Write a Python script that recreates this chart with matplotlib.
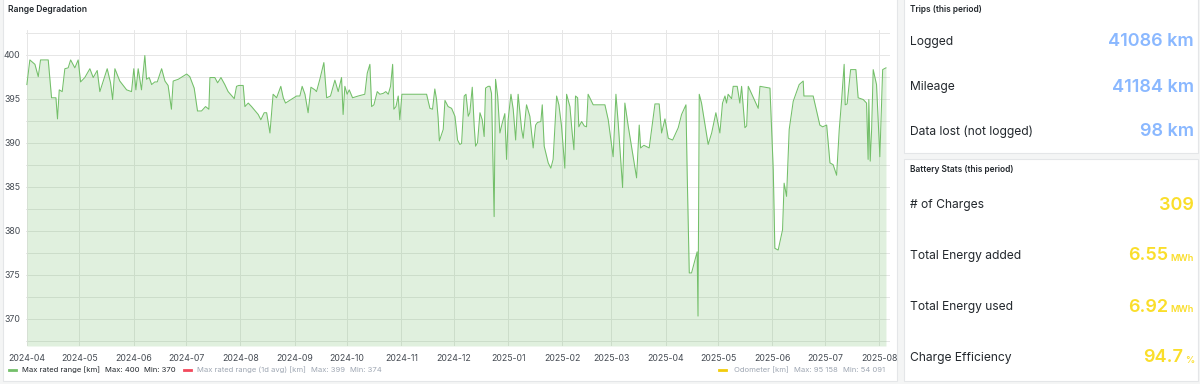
import numpy as np
import pandas as pd
import matplotlib
matplotlib.use("Agg")
import matplotlib.pyplot as plt
from matplotlib.patches import Rectangle

plt.rcParams['font.family'] = ['Inter', 'DejaVu Sans']

# --- data: max rated range, days since 2024-04-01 ---
start = pd.Timestamp("2024-04-01")
day = [0, 1.7, 4.6, 6.5, 7.8, 12.2, 14.1, 16.6, 17.5, 18.5, 20.2, 21.7, 23.6, 25.0, 27.4, 29.3,
       30.7, 33.1, 36.0, 37.9, 40.2, 41.7, 45.9, 47.8, 49.0, 50.3, 53.1, 57.0, 59.8, 61.1, 62.3,
       63.6, 65.5, 67.4, 68.4, 69.9, 71.3, 73.1, 74.5, 77.0, 78.9, 80.7, 82.6, 83.6, 86.5, 91.3,
       93.1, 95.6, 97.5, 99.8, 102.1, 104.0, 104.6, 107.4, 109.0, 110.9, 113.1, 115.0, 118.5,
       119.8, 121.1, 123.6, 124.6, 126.5, 128.4, 132.2, 133.7, 135.6, 137.0, 138.9, 140.7, 142.7,
       145.1, 146.5, 147.8, 150.9, 154.1, 156.0, 157.3, 158.9, 160.7, 162.3, 164.6, 165.5, 167.4,
       169.7, 171.3, 173.5, 176.0, 177.9, 179.8, 180.7, 181.7, 183.0, 184.2, 186.1, 189.3, 193.1,
       194.5, 196.0, 197.0, 198.3, 200.2, 201.7, 203.6, 205.1, 206.5, 207.8, 209.0, 209.7, 210.9,
       212.2, 213.1, 214.3, 228.4, 230.3, 231.8, 233.1, 234.1, 235.0, 235.7, 237.9, 238.9, 240.7,
       242.7, 244.6, 246.1, 247.4, 248.4, 249.9, 250.9, 252.2, 253.1, 254.5, 255.6, 256.4, 257.5,
       258.9, 260.2, 261.3, 262.1, 263.6, 264.6, 265.5, 266.5, 267.0, 267.8, 269.0, 270.3, 271.6,
       273.1, 274.1, 275.0, 276.6, 277.9, 279.3, 280.7, 282.7, 283.6, 285.5, 287.4, 289.3, 290.7,
       291.8, 293.7, 294.5, 295.6, 297.9, 299.4, 300.7, 302.7, 304.0, 305.5, 307.4, 308.4, 310.3,
       311.6, 312.6, 313.5, 314.7, 315.4, 317.0, 318.5, 319.8, 320.7, 323.6, 330.3, 332.2, 335.0,
       336.6, 337.9, 340.4, 341.7, 343.6, 348.4, 349.9, 350.7, 352.6, 355.6, 358.9, 361.3, 362.7,
       364.6, 366.5, 369.0, 372.2, 374.1, 376.6, 377.3, 378.5, 379.8, 383.0, 383.5, 383.7, 384.2,
       385.5, 389.3, 391.3, 393.7, 396.0, 397.5, 398.9, 399.8, 400.7, 402.7, 403.6, 405.9, 407.4,
       408.4, 410.3, 411.3, 412.2, 417.9, 418.9, 424.6, 426.5, 427.4, 429.3, 431.8, 432.7, 434.1,
       435.6, 437.9, 441.3, 443.6, 444.0, 449.3, 453.1, 454.7, 457.0, 458.9, 460.7, 462.7, 464.2,
       465.5, 467.0, 467.6, 468.7, 470.7, 473.7, 475.0, 477.9, 479.8, 480.7, 481.1, 481.9, 482.7,
       483.6, 485.5, 487.4, 489.0, 490.9]
rng = [396.6, 399.4, 398.9, 397.5, 399.4, 399.4, 395.1, 395.1, 392.7, 396.0, 395.8, 398.4, 398.5,
       399.4, 398.5, 399.4, 396.9, 397.4, 398.4, 397.4, 398.2, 395.8, 398.4, 396.8, 394.9, 398.4,
       397.0, 396.0, 395.8, 398.4, 396.0, 398.4, 396.0, 399.9, 397.2, 397.4, 396.6, 396.9, 396.9,
       398.4, 397.0, 396.5, 393.8, 397.0, 397.2, 397.8, 397.5, 396.2, 393.6, 393.6, 394.1, 393.8,
       397.4, 397.4, 396.8, 397.4, 396.6, 395.8, 395.0, 396.4, 396.5, 396.5, 394.1, 394.5, 394.1,
       393.2, 392.6, 393.4, 393.4, 391.1, 395.5, 395.1, 396.4, 395.1, 394.5, 394.9, 395.3, 395.3,
       396.4, 395.5, 393.4, 396.3, 396.0, 395.8, 397.2, 399.1, 395.1, 395.3, 397.1, 395.8, 397.4,
       393.2, 396.4, 395.5, 396.0, 395.1, 395.3, 395.5, 397.9, 398.9, 394.1, 394.3, 395.8, 395.5,
       395.6, 395.8, 395.5, 396.4, 398.9, 393.8, 394.1, 395.3, 392.6, 395.5, 395.5, 393.9, 393.8,
       396.1, 394.9, 392.8, 390.2, 391.5, 394.8, 394.1, 393.9, 393.0, 390.3, 389.8, 389.9, 395.3,
       395.5, 393.0, 393.4, 396.3, 391.9, 389.6, 390.0, 393.4, 392.6, 390.7, 396.2, 396.4, 396.4,
       395.6, 386.6, 381.6, 397.2, 395.3, 391.1, 392.2, 393.3, 388.1, 392.6, 395.5, 393.8, 390.3,
       395.5, 391.5, 390.5, 394.3, 393.0, 389.4, 392.0, 392.3, 392.4, 394.3, 389.6, 387.7, 387.1,
       388.1, 395.3, 394.3, 391.9, 387.1, 395.5, 394.1, 391.1, 389.2, 395.3, 395.1, 391.8, 392.4,
       391.9, 391.8, 395.5, 394.3, 394.3, 392.6, 388.4, 395.5, 392.2, 384.9, 394.5, 391.9, 386.0,
       392.0, 389.4, 389.7, 389.4, 394.4, 394.4, 391.1, 392.7, 390.5, 390.3, 391.7, 393.2, 394.3,
       386.6, 375.2, 375.2, 377.6, 370.3, 377.8, 395.5, 394.5, 389.8, 391.1, 393.4, 391.1, 394.5,
       395.3, 394.5, 395.5, 395.0, 396.4, 396.4, 394.5, 396.4, 391.7, 391.9, 396.4, 393.9, 396.4,
       396.2, 386.9, 378.0, 377.8, 380.1, 385.4, 383.9, 391.5, 394.7, 396.6, 397.0, 395.3, 395.3,
       392.0, 391.8, 392.0, 387.7, 387.5, 386.3, 391.5, 394.7, 398.9, 394.3, 394.4, 398.3, 398.3,
       395.1, 394.9, 394.5, 388.1, 394.9, 387.9, 391.5, 398.3, 396.6, 388.4, 398.3, 398.5]

months = pd.date_range("2024-04-01", "2025-08-01", freq="MS")

legend_items = [
    ("Max rated range [km]", "Max: 400", "Min: 370", "#73BF69", True),
    ("Max rated range (1d avg) [km]", "Max: 399", "Min: 374", "#F2495C", False),
]
odo_item = ("Odometer [km]", "Max: 95 158", "Min: 54 091", "#F2CC0C")

trip_labels = ["Logged", "Mileage", "Data lost (not logged)"]
trip_values = ["41086 km", "41184 km", "98 km"]
batt_labels = ["# of Charges", "Total Energy added", "Total Energy used", "Charge Efficiency"]
batt_values = ["309", "6.55", "6.92", "94.7"]
batt_units = ["", "MWh", "MWh", "%"]

W, H = 1200, 384
fig = plt.figure(figsize=(12, 3.84), dpi=100)
fig.patch.set_facecolor("#F4F5F5")

def fx(x):
    return x / W

def fy(y):
    return 1 - y / H

def panel(x0, y0, x1, y1):
    fig.patches.append(Rectangle((fx(x0), fy(y1)), fx(x1 - x0), (y1 - y0) / H,
                                 transform=fig.transFigure, facecolor="white",
                                 edgecolor="#E4E6E8", linewidth=0.8, zorder=-10))

panel(3, -2, 897, 381)
panel(904, -2, 1198, 153)
panel(904, 159, 1198, 381)

# --- chart ---
ax = fig.add_axes([fx(26), fy(346), fx(890 - 26), (346 - 30) / H])
ax.set_zorder(1)
t = start + pd.to_timedelta(day, unit="D")
ymin, ymax = 366.9, 402.8
ax.plot(t, rng, color="#73BF69", lw=0.75, zorder=3)
ax.fill_between(t, rng, ymin, color="#73BF69", alpha=0.22, lw=0, zorder=2)
ax.set_ylim(ymin, ymax)
ax.set_xlim(start - pd.Timedelta(days=0.5), start + pd.Timedelta(days=493.2))
ax.set_yticks(np.arange(370, 401, 5))
ax.set_yticks(np.arange(367.5, 403, 2.5), minor=True)
ax.set_xticks(months)
ax.set_xticklabels([m.strftime("%Y-%m") for m in months])
ax.grid(True, which="both", color="#E6E6E6", lw=0.7, zorder=0)
ax.tick_params(which="both", length=0, labelsize=6.3, labelcolor="#464C54")
ax.tick_params(axis="x", pad=6)
ax.tick_params(axis="y", pad=4)
for s in ax.spines.values():
    s.set_visible(False)
ax.set_facecolor("white")

fig.text(fx(8), fy(10), "Range Degradation", fontsize=6.1, color="#24292E",
         weight="semibold", va="center")

# legend
fig.canvas.draw()
r = fig.canvas.get_renderer()

def width_px(txt):
    bb = txt.get_window_extent(renderer=r)
    return bb.width

x = 9
ly = fy(369.5)
for name, mx, mn, col, active in legend_items:
    fig.add_artist(plt.Line2D([fx(x), fx(x + 7)], [ly, ly], color=col, lw=2,
                              transform=fig.transFigure))
    x += 13
    c = "#24292E" if active else "#9FA7B3"
    for s in (name, mx, mn):
        tt = fig.text(fx(x), ly, s, fontsize=5.5, color=c, va="center")
        x += width_px(tt) + 5
    x += 3

# odometer legend, right aligned
xr = 885
for s in odo_item[2::-1]:
    tt = fig.text(fx(xr), ly, s, fontsize=5.5, color="#9FA7B3", va="center", ha="right")
    xr -= width_px(tt) + 5
fig.add_artist(plt.Line2D([fx(xr - 10), fx(xr - 3)], [ly, ly], color=odo_item[3], lw=2,
                          transform=fig.transFigure))

# --- right stat panels ---
fig.text(fx(910), fy(10), "Trips (this period)", fontsize=6.0, color="#24292E",
         weight="semibold", va="center")
for i, (lab, val) in enumerate(zip(trip_labels, trip_values)):
    yy = fy(42 + i * 45)
    fig.text(fx(910), yy, lab, fontsize=8.7, color="#24292E", va="center")
    fig.text(fx(1194), yy, val, fontsize=13, color="#8AB8FF", va="center",
             ha="right", weight="semibold")

fig.text(fx(910), fy(170), "Battery Stats (this period)", fontsize=6.0, color="#24292E",
         weight="semibold", va="center")
for i, (lab, val, unit) in enumerate(zip(batt_labels, batt_values, batt_units)):
    yy = fy(205 + i * 51)
    fig.text(fx(910), yy, lab, fontsize=8.7, color="#24292E", va="center")
    xr = 1194
    if unit:
        ut = fig.text(fx(xr), fy(205 + i * 51 + 2.5), unit, fontsize=6.6, color="#FADE2A",
                      va="center", ha="right", weight="semibold")
        xr -= width_px(ut) + 2
    fig.text(fx(xr), yy, val, fontsize=13, color="#FADE2A", va="center",
             ha="right", weight="semibold")

fig.savefig("out.png", dpi=100, facecolor=fig.get_facecolor())
